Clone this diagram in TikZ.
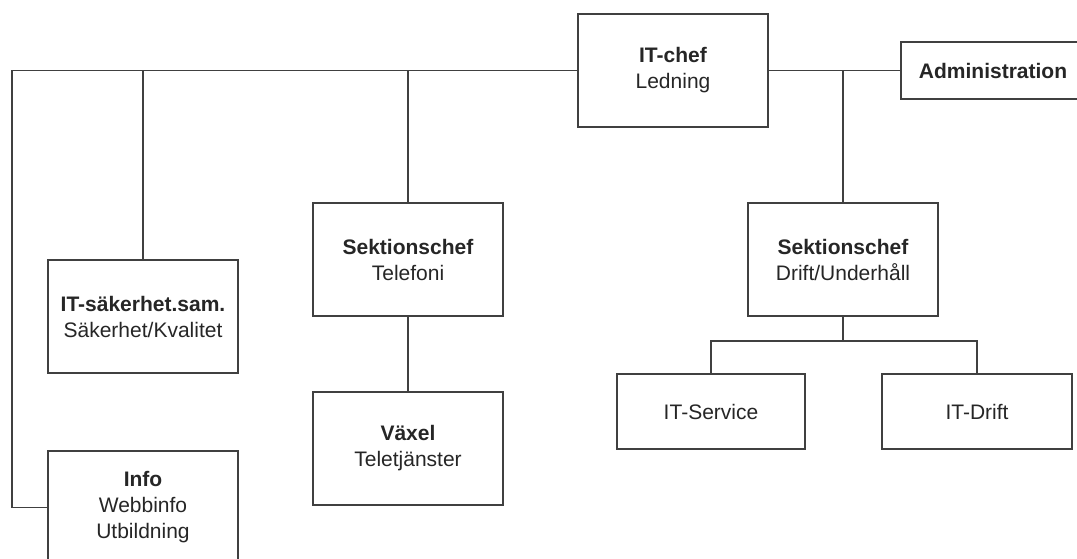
\documentclass[tikz,border=0pt]{standalone}
\usepackage{fontspec}
\setmainfont{Liberation Sans}
\definecolor{linegray}{HTML}{404040}
\definecolor{textgray}{HTML}{262626}
\begin{document}
\begin{tikzpicture}[x=1pt,y=-1pt,
  box/.style={draw=linegray, line width=1.6pt, fill=white, inner sep=0pt,
    minimum width=190pt, minimum height=113pt, align=center,
    text=textgray, font=\fontsize{21}{26}\selectfont},
  smallbox/.style={box, minimum height=75pt},
  conn/.style={draw=linegray, line width=1.6pt}]
\useasboundingbox (0,0) rectangle (1077,558);
\clip (0,0) rectangle (1077,558);
\fill[white] (0,0) rectangle (1077,558);

\node[box] (itchef) at (673,70.5) {\textbf{IT-chef}\\Ledning};
\node[box, minimum width=184pt, minimum height=57pt] (admin) at (993,70.5) {\textbf{Administration}};
\node[box] (sak) at (143,316.5) {\textbf{IT-säkerhet.sam.}\\Säkerhet/Kvalitet};
\node[box] (info) at (143,507.5) {\textbf{Info}\\Webbinfo\\Utbildning};
\node[box] (tel) at (408,259.5) {\textbf{Sektionschef}\\Telefoni};
\node[box] (vax) at (408,448.5) {\textbf{Växel}\\Teletjänster};
\node[box] (drift) at (843,259.5) {\textbf{Sektionschef}\\Drift/Underhåll};
\node[smallbox, minimum width=188pt] (svc) at (711,411.5) {IT-Service};
\node[smallbox] (itd) at (977,411.5) {IT-Drift};

\coordinate (tl) at (12,70.5);
\coordinate (dj) at (843,341);

\draw[conn] (itchef.west) -- (tl) |- (info.west);
\draw[conn] (itchef.east) -- (admin.west);
\draw[conn] (sak.north) -- (sak.north |- tl);
\draw[conn] (tel.north) -- (tel.north |- tl);
\draw[conn] (drift.north) -- (drift.north |- itchef.east);
\draw[conn] (tel.south) -- (vax.north);
\draw[conn] (drift.south) -- (dj);
\draw[conn] (svc.north) |- (dj) -| (itd.north);
\end{tikzpicture}
\end{document}
